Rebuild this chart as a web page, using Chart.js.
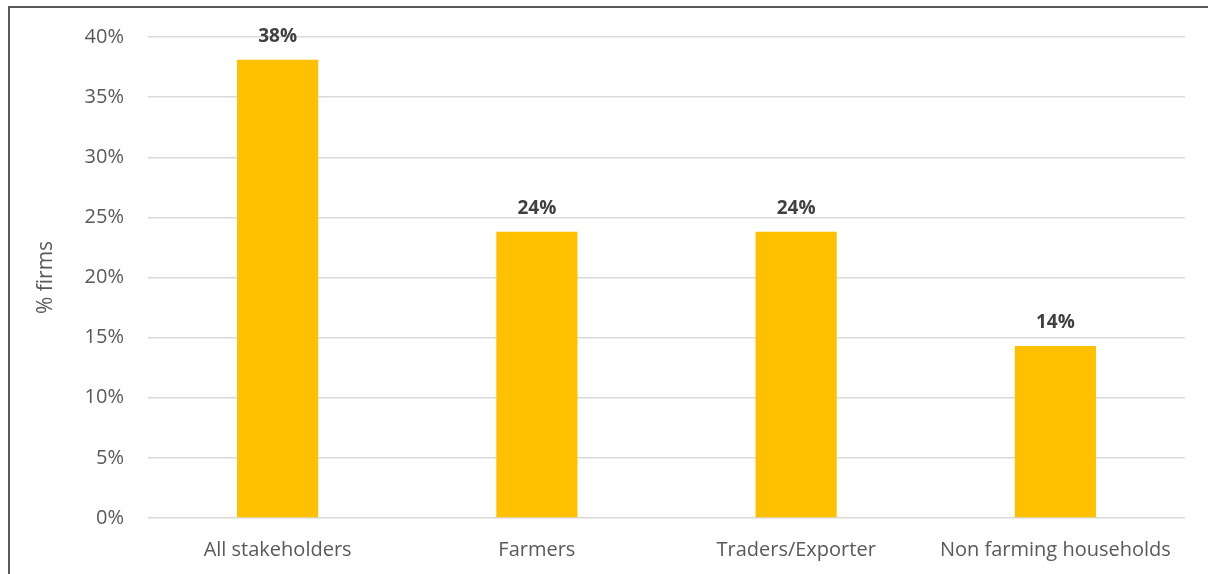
<!DOCTYPE html>
<html>
<head>
<meta charset="utf-8">
<script src="https://cdn.jsdelivr.net/npm/chart.js@4"></script>
<style>
  html, body { margin: 0; padding: 0; background: #fff; }
  .frame {
    position: absolute;
    left: 8px;
    top: 6px;
    right: 0;
    bottom: 0;
    border-top: 2px solid #595959;
    border-left: 2px solid #595959;
  }
  #chart { position: absolute; left: 0; top: 0; }
</style>
</head>
<body>
<div class="frame"></div>
<canvas id="chart" width="1208" height="574"></canvas>
<script>
const categories = ['All stakeholders', 'Farmers', 'Traders/Exporter', 'Non farming households'];
const shareOfFirms = [38.1, 23.8, 23.8, 14.3];
const yTicks = [0, 5, 10, 15, 20, 25, 30, 35, 40];

const FONT = '"Open Sans", Lato, sans-serif';

// percentage labels above each bar
const valueLabels = {
  id: 'valueLabels',
  afterDatasetsDraw(chart) {
    const ctx = chart.ctx;
    const meta = chart.getDatasetMeta(0);
    ctx.save();
    ctx.font = 'bold 19px ' + FONT;
    ctx.fillStyle = '#404040';
    ctx.textAlign = 'center';
    ctx.textBaseline = 'middle';
    meta.data.forEach((bar, i) => {
      const v = chart.data.datasets[0].data[i];
      ctx.fillText(Math.round(v) + '%', bar.x, bar.y - 23);
    });
    ctx.restore();
  }
};

const ctx = document.getElementById('chart').getContext('2d');

new Chart(ctx, {
  type: 'bar',
  data: {
    labels: categories,
    datasets: [{
      data: shareOfFirms,
      backgroundColor: '#FFC000',
      borderWidth: 0,
      barPercentage: 0.313,
      categoryPercentage: 1
    }]
  },
  options: {
    responsive: false,
    animation: false,
    layout: {
      padding: { top: 37, right: 23, bottom: 0, left: 0 }
    },
    plugins: {
      legend: { display: false },
      tooltip: { enabled: false }
    },
    scales: {
      x: {
        grid: { display: false },
        border: { display: false },
        ticks: {
          font: { family: FONT, size: 20 },
          color: '#595959',
          padding: 12,
          maxRotation: 0,
          autoSkip: false
        },
        afterFit(scale) {
          scale.height = 56;
        }
      },
      y: {
        min: 0,
        max: 40,
        afterBuildTicks(scale) {
          scale.ticks = yTicks.map(v => ({ value: v }));
        },
        grid: {
          color: '#d9d9d9',
          lineWidth: 1.5,
          drawTicks: false
        },
        border: { display: false },
        ticks: {
          font: { family: FONT, size: 20 },
          color: '#595959',
          padding: 24,
          callback: v => v + '%'
        },
        title: {
          display: true,
          text: '% firms',
          font: { family: FONT, size: 21 },
          color: '#595959',
          padding: { top: 33, bottom: 0 }
        },
        afterFit(scale) {
          scale.width = 148;
        }
      }
    }
  },
  plugins: [valueLabels]
});
</script>
</body>
</html>
